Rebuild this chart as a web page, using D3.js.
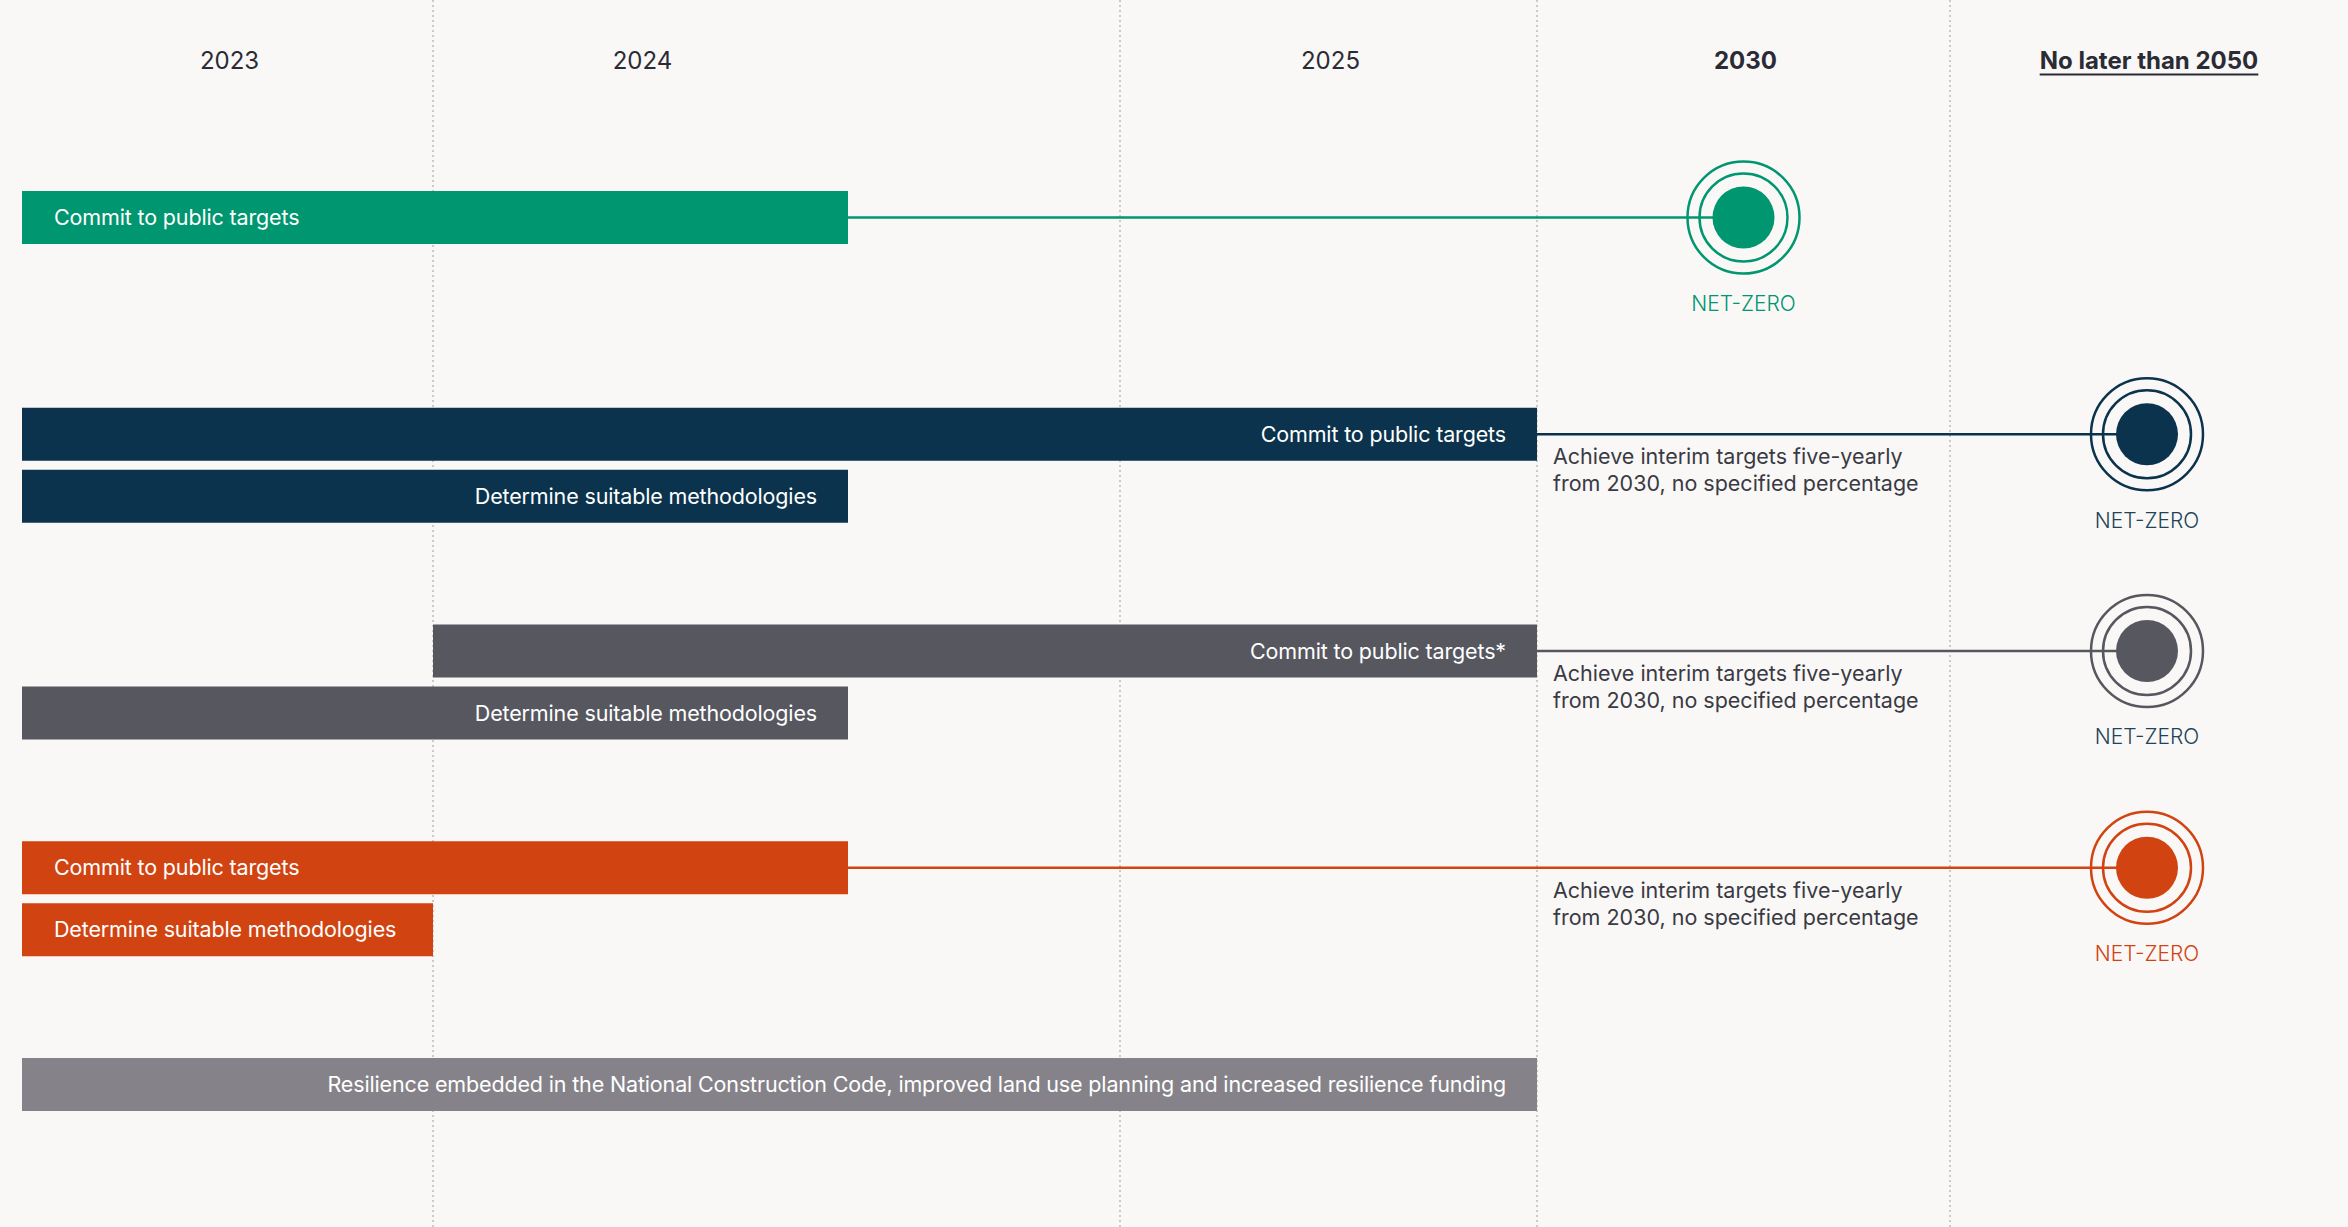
<!DOCTYPE html>
<html>
<head>
<meta charset="utf-8">
<script src="https://cdn.jsdelivr.net/npm/d3@7"></script>
<style>
  body { margin: 0; background: #f9f8f6; }
  svg { display: block; font-family: Inter, "Noto Sans", sans-serif; }
</style>
</head>
<body>
<svg width="2348" height="1227"></svg>
<script>
// column headers (the third column is an unlabelled half-period)
var colLabels = ["2023", "2024", "", "2025", "2030", "No later than 2050"];
var colWidths = [411, 415, 272, 417, 413, 394];

// bars: which group, which row in the group, start/end column stop, label
var barGroups = ["green", "navy", "navy", "gray", "gray", "orange", "orange", "resilience"];
var barRows = [0, 0, 1, 0, 1, 0, 1, 0];
var barStarts = [0, 0, 0, 1, 0, 0, 0, 0];
var barEnds = [2, 4, 2, 4, 2, 2, 1, 4];
var barTexts = [
  "Commit to public targets",
  "Commit to public targets",
  "Determine suitable methodologies",
  "Commit to public targets*",
  "Determine suitable methodologies",
  "Commit to public targets",
  "Determine suitable methodologies",
  "Resilience embedded in the National Construction Code, improved land use planning and increased resilience funding"
];

var groups = ["green", "navy", "gray", "orange", "resilience"];

// net-zero markers
var markerGroups = ["green", "navy", "gray", "orange"];
var markerAt = [4.5, 5.5, 5.5, 5.5];
var markerLabel = "NET-ZERO";

// interim target notes
var noteGroups = ["navy", "gray", "orange"];
var noteLines = ["Achieve interim targets five-yearly", "from 2030, no specified percentage"];

var colors = { green: "#00966f", navy: "#0b334d", gray: "#57575f", orange: "#d14412", resilience: "#858389" };
var labelColors = { green: "#00966f", navy: "#1f4459", gray: "#1f4459", orange: "#d14412" };
var textAlign = { green: "start", navy: "end", gray: "end", orange: "start", resilience: "end" };

var svg = d3.select("svg"),
  left = 22, top = 7,
  height = +svg.attr("height");

var bounds = [left];
colWidths.forEach(function (w, i) { bounds.push(bounds[i] + w); });

var x = d3.scaleLinear().domain(d3.range(bounds.length)).range(bounds);
var y = d3.scalePoint().domain(groups).range([191, 1058]);
var rowStep = 62, barH = 53, pad = 31;

var colFill = ["#f4f3ef", "#f4f3ef", "#f4f3ef", "#f4f3ef", "#eae9e4", "#e0ddd6"];

// column backgrounds
svg.append("g").selectAll("rect")
  .data(colLabels)
  .enter().append("rect")
  .attr("x", function (d, i) { return x(i); })
  .attr("y", top)
  .attr("width", function (d, i) { return x(i + 1) - x(i); })
  .attr("height", height - top)
  .attr("fill", function (d, i) { return colFill[i]; });

// dotted dividers before every labelled column (except the first)
svg.append("g").selectAll("line")
  .data(colLabels.map(function (d, i) { return i; }).filter(function (i) { return i > 0 && colLabels[i] !== ""; }))
  .enter().append("line")
  .attr("x1", function (i) { return x(i); })
  .attr("x2", function (i) { return x(i); })
  .attr("y1", top)
  .attr("y2", height)
  .attr("stroke", "#b9b7b2")
  .attr("stroke-width", 1.4)
  .attr("stroke-dasharray", "2,3");

// headers
var head = svg.append("g").selectAll("text")
  .data(colLabels)
  .enter().append("text")
  .attr("x", function (d, i) { return (x(i) + x(i + 1)) / 2 + 2; })
  .attr("y", 69)
  .attr("text-anchor", "middle")
  .attr("font-size", 24)
  .attr("font-weight", function (d, i) { return i >= 4 ? 700 : 400; })
  .attr("fill", "#2b2b35")
  .text(function (d) { return d; });

// underline the last header
head.filter(function (d, i) { return i === colLabels.length - 1; }).each(function () {
  var b = this.getBBox();
  svg.append("line")
    .attr("x1", b.x).attr("x2", b.x + b.width)
    .attr("y1", 74.5).attr("y2", 74.5)
    .attr("stroke", "#2b2b35").attr("stroke-width", 2);
});

function rowCenter(g, r) { return y(g) + r * rowStep + barH / 2; }

// connector lines from the first bar of each group to its marker
var lines = svg.append("g");
markerGroups.forEach(function (g, i) {
  var bi = barGroups.findIndex(function (b, j) { return b === g && barRows[j] === 0; });
  lines.append("line")
    .attr("x1", x(barEnds[bi]))
    .attr("x2", x(markerAt[i]))
    .attr("y1", rowCenter(g, 0))
    .attr("y2", rowCenter(g, 0))
    .attr("stroke", colors[g])
    .attr("stroke-width", 2.5);
});

// bars
var bars = svg.append("g").selectAll("g")
  .data(barTexts)
  .enter().append("g");

bars.append("rect")
  .attr("x", function (d, i) { return x(barStarts[i]); })
  .attr("y", function (d, i) { return y(barGroups[i]) + barRows[i] * rowStep; })
  .attr("width", function (d, i) { return x(barEnds[i]) - x(barStarts[i]); })
  .attr("height", barH)
  .attr("fill", function (d, i) { return colors[barGroups[i]]; });

bars.append("text")
  .attr("x", function (d, i) {
    return textAlign[barGroups[i]] === "start" ? x(barStarts[i]) + pad + 1 : x(barEnds[i]) - pad;
  })
  .attr("y", function (d, i) { return rowCenter(barGroups[i], barRows[i]); })
  .attr("dy", "0.36em")
  .attr("text-anchor", function (d, i) { return textAlign[barGroups[i]]; })
  .attr("font-size", 21.5)
  .attr("letter-spacing", -0.15)
  .attr("fill", "#ffffff")
  .text(function (d) { return d; });

// markers
var markers = svg.append("g").selectAll("g")
  .data(markerGroups)
  .enter().append("g")
  .attr("transform", function (g, i) { return "translate(" + x(markerAt[i]) + "," + rowCenter(g, 0) + ")"; });

[56, 44].forEach(function (r) {
  markers.append("circle")
    .attr("r", r)
    .attr("fill", "none")
    .attr("stroke", function (g) { return colors[g]; })
    .attr("stroke-width", 2.5);
});
markers.append("circle")
  .attr("r", 31)
  .attr("fill", function (g) { return colors[g]; });
markers.append("text")
  .attr("y", 86)
  .attr("dy", "0.35em")
  .attr("text-anchor", "middle")
  .attr("font-size", 21)
  .attr("font-weight", 300)
  .attr("fill", function (g) { return labelColors[g]; })
  .text(markerLabel);

// interim notes
var notes = svg.append("g").selectAll("text")
  .data(noteGroups)
  .enter().append("text")
  .attr("x", x(4) + 16)
  .attr("y", function (g) { return rowCenter(g, 0); })
  .attr("font-size", 21.5)
  .attr("fill", "#3a3a44");

noteLines.forEach(function (t, k) {
  notes.append("tspan")
    .attr("x", x(4) + 16)
    .attr("dy", k === 0 ? 30 : 27)
    .text(t);
});
</script>
</body>
</html>
